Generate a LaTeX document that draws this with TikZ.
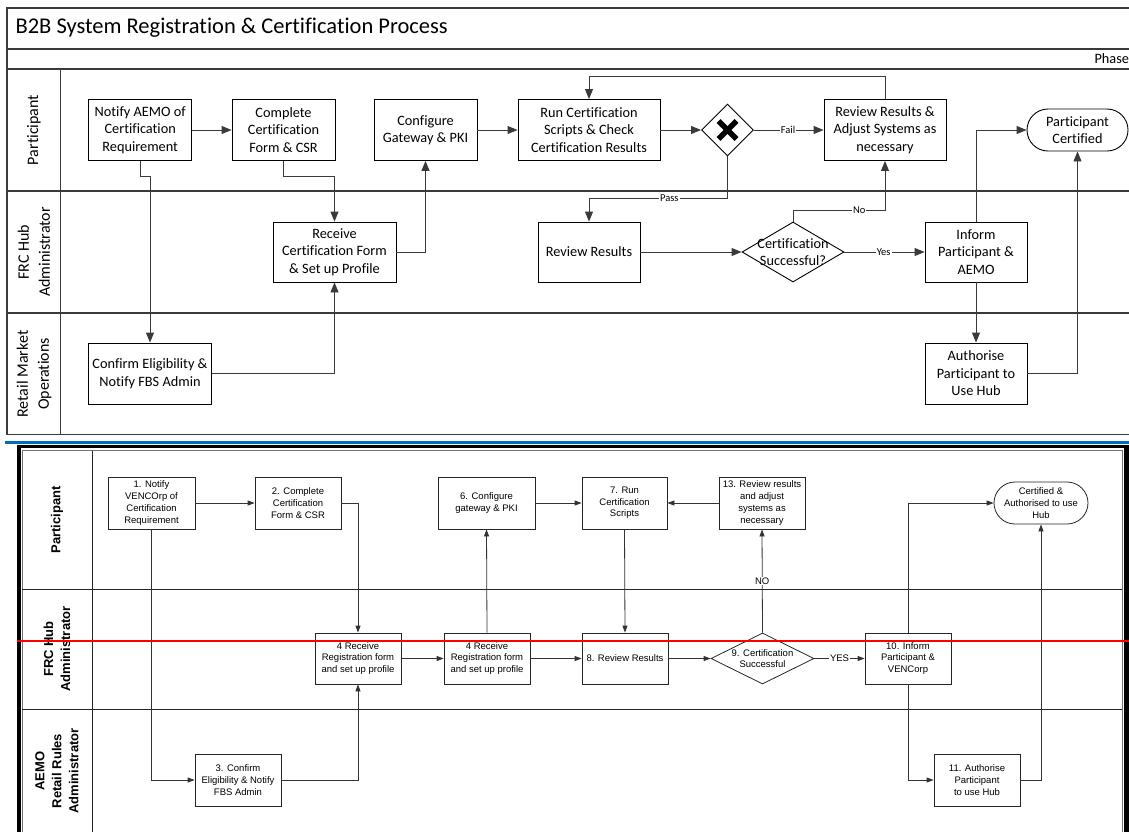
\documentclass[tikz,border=0pt]{standalone}
\usepackage{fontspec}
\setmainfont{Carlito}[Ligatures={NoCommon}]
\newfontfamily\arialf{Liberation Sans}
\usetikzlibrary{arrows.meta,shapes.geometric}
\definecolor{frame}{RGB}{58,58,58}
\definecolor{sepblue}{RGB}{0,108,190}
\begin{document}
\begin{tikzpicture}[x=1pt,y=-1pt,
  topbox/.style={draw=black, line width=0.9pt, fill=white, align=center, inner sep=0pt,
    font=\fontsize{14.3}{17.5}\selectfont},
  topdiam/.style={draw=black, line width=0.9pt, fill=white, diamond, inner sep=0pt},
  topterm/.style={draw=black, line width=0.9pt, fill=white, align=center, inner sep=0pt,
    rounded corners=21pt, font=\fontsize{14.3}{17.5}\selectfont},
  toparr/.style={draw=frame, line width=0.9pt, -{Triangle[length=10pt,width=8pt]}},
  toplab/.style={fill=white, inner sep=1pt, font=\fontsize{10.5}{12}\selectfont},
  lanelab/.style={rotate=90, align=center, font=\fontsize{16}{21}\selectfont},
  lowbox/.style={draw=black!85, line width=0.8pt, fill=white, align=center, inner sep=0pt,
    font=\arialf\fontsize{9.5}{11.7}\selectfont},
  lowarr/.style={draw=black!80, line width=0.8pt, -{Triangle[length=7pt,width=5pt]}},
  lowlab/.style={fill=white, inner sep=1pt, font=\arialf\fontsize{9.5}{11.7}\selectfont},
  lowlane/.style={rotate=90, align=center, font=\arialf\bfseries\fontsize{13}{17}\selectfont},
]
\useasboundingbox (0,0) rectangle (1129,831);
\fill[white] (0,0) rectangle (1129,831);

% ---------- top diagram frame ----------
\draw[frame, line width=1.6pt] (1135,8) -- (7,8) -- (7,434.5) -- (1135,434.5);
\draw[frame, line width=1.4pt] (7,49) -- (1135,49);
\draw[frame, line width=1.4pt] (7,69) -- (1135,69);
\draw[frame, line width=1.4pt] (7,191) -- (1135,191);
\draw[frame, line width=1.4pt] (7,313) -- (1135,313);
\draw[frame, line width=1.2pt] (60.7,69) -- (60.7,434.5);
\node[anchor=west, font=\fontsize{22.5}{26}\selectfont] (title) at (12,28) {B2B System Registration \& Certification Process};
\node[anchor=west, font=\fontsize{14.3}{17.5}\selectfont] (phase) at (1091,59) {Phase};
\node[lanelab] (lpart) at (34,130) {Participant};
\node[lanelab] (lfrc) at (34,252) {FRC Hub\\Administrator};
\node[lanelab] (lrmo) at (34,374) {Retail Market\\Operations};

% ---------- top diagram nodes ----------
\node[topbox, minimum width=103, minimum height=61] (notify) at (140.2,130) {Notify AEMO of\\Certification\\Requirement};
\node[topbox, minimum width=103, minimum height=61] (complete) at (283.5,130) {Complete\\Certification\\Form \& CSR};
\node[topbox, minimum width=103, minimum height=61] (config) at (425.5,130) {Configure\\Gateway \& PKI};
\node[topbox, minimum width=142, minimum height=61] (run) at (589,130) {Run Certification\\Scripts \& Check\\Certification Results};
\node[topdiam, minimum width=52, minimum height=52] (gw) at (727.5,130) {};
\draw[black, line width=5.5pt] ([shift={(-9,-9)}]gw.center) -- ([shift={(9,9)}]gw.center);
\draw[black, line width=5.5pt] ([shift={(-9,9)}]gw.center) -- ([shift={(9,-9)}]gw.center);
\node[topbox, minimum width=122, minimum height=61] (adjust) at (885,130) {Review Results \&\\Adjust Systems as\\necessary};
\node[topterm, minimum width=101, minimum height=42] (cert1) at (1077.5,130) {Participant\\Certified};

\node[topbox, minimum width=123, minimum height=60] (receive) at (334.5,252) {Receive\\Certification Form\\\& Set up Profile};
\node[topbox, minimum width=102, minimum height=60] (revres) at (589,252) {Review Results};
\node[topdiam, minimum width=102, minimum height=60,
  label={[align=center, font=\fontsize{14.3}{17.5}\selectfont]center:Certification\\Successful?}] (certok) at (793,252) {};
\node[topbox, minimum width=102, minimum height=60] (inform) at (976,252) {Inform\\Participant \&\\AEMO};

\node[topbox, minimum width=123, minimum height=61] (confirm) at (150,373.5) {Confirm Eligibility \&\\Notify FBS Admin};
\node[topbox, minimum width=102, minimum height=61] (author) at (976,373.5) {Authorise\\Participant to\\Use Hub};

% ---------- top diagram connectors ----------
\draw[toparr] (notify) -- (complete);
\draw[toparr] (notify.south) -- ++(0,15) -| (confirm.north);
\draw[toparr] (complete.south) -- ++(0,15) -| (receive.north);
\draw[toparr] (confirm.east) -| (receive.south);
\draw[toparr] (receive.east) -| (config.south);
\draw[toparr] (config) -- (run);
\draw[toparr] (run) -- (gw);
\draw[toparr] (gw) -- node[toplab, pos=0.49] {Fail} (adjust);
\draw[toparr] (adjust.north) -- ++(0,-23) -| (run.north);
\draw[toparr] (gw.south) |- ++(0,42) -| node[toplab, pos=0.21] {Pass} (revres.north);
\draw[toparr] (revres) -- (certok);
\draw[toparr] (certok.north) -- ++(0,-11) -| node[toplab, pos=0.36] {No} (adjust.south);
\draw[toparr] (certok) -- node[toplab, pos=0.49] {Yes} (inform);
\draw[toparr] (inform.north) |- (cert1.west);
\draw[toparr] (inform) -- (author);
\draw[toparr] (author.east) -| (cert1.south);

% ---------- separator ----------
\draw[sepblue, line width=3pt] (5,442) -- (1135,442);

% ---------- lower diagram frame ----------
\draw[black, line width=3pt] (17,446.5) -- (1135,446.5);
\draw[black, line width=4pt] (19,446) -- (19,835);
\draw[black, line width=5pt] (1126.5,446) -- (1126.5,835);
\draw[black!55, line width=0.9pt] (22,835) -- (22,450.5) -- (1122,450.5) -- (1122,835);
\draw[black!85, line width=0.8pt] (22,589) -- (1122,589);
\draw[black!85, line width=0.8pt] (22,709) -- (1122,709);
\draw[black!85, line width=0.8pt] (92,450.5) -- (92,835);
\node[lowlane] (mpart) at (57,520) {Participant};
\node[lowlane] (mfrc) at (57,649) {FRC Hub\\Administrator};
\node[lowlane] (maemo) at (57,771) {AEMO\\Retail Rules\\Administrator};

% ---------- lower diagram nodes ----------
\node[lowbox, minimum width=87, minimum height=52] (n1) at (151.5,503) {1. Notify\\VENCOrp of\\Certification\\Requirement};
\node[lowbox, minimum width=86, minimum height=52] (n2) at (298,503) {2. Complete\\Certification\\Form \& CSR};
\node[lowbox, minimum width=97, minimum height=52] (n6) at (486.5,503) {6. Configure\\gateway \& PKI};
\node[lowbox, minimum width=85, minimum height=52] (n7) at (624.5,503) {7. Run\\Certification\\Scripts};
\node[lowbox, minimum width=86, minimum height=52] (n13) at (762,503) {13. Review results\\and adjust\\systems as\\necessary};
\node[lowbox, rounded corners=21pt, minimum width=94, minimum height=42] (cert2) at (1041,503) {Certified \&\\Authorised to use\\Hub};

\node[lowbox, minimum width=86, minimum height=51] (n4a) at (358,658.5) {4 Receive\\Registration form\\and set up profile};
\node[lowbox, minimum width=86, minimum height=51] (n4b) at (487,658.5) {4 Receive\\Registration form\\and set up profile};
\node[lowbox, minimum width=86, minimum height=51] (n8) at (625,658.5) {8. Review Results};
\node[draw=black!85, line width=0.8pt, fill=white, diamond, inner sep=0pt, minimum width=103, minimum height=51,
  label={[align=center, font=\arialf\fontsize{9.5}{11.7}\selectfont]center:9. Certification\\Successful}] (n9) at (762.5,658.5) {};
\node[lowbox, minimum width=86, minimum height=51] (n10) at (908,658.5) {10. Inform\\Participant \&\\VENCorp};

\node[lowbox, minimum width=86, minimum height=52] (n3) at (238,780) {3. Confirm\\Eligibility \& Notify\\FBS Admin};
\node[lowbox, minimum width=86, minimum height=52] (n11) at (977,780) {11. Authorise\\Participant\\to use Hub};

% ---------- lower diagram connectors ----------
\draw[lowarr] (n1) -- (n2);
\draw[lowarr] (n1.south) |- (n3.west);
\draw[lowarr] (n2.east) -| (n4a.north);
\draw[lowarr] (n3.east) -| (n4a.south);
\draw[lowarr] (n4a) -- (n4b);
\draw[lowarr] (n4b.north) -- (n6.south);
\draw[lowarr] (n6) -- (n7);
\draw[lowarr] (n13) -- (n7);
\draw[lowarr] (n7.south) -- (n8.north);
\draw[lowarr] (n4b) -- (n8);
\draw[lowarr] (n8) -- (n9);
\draw[lowarr] (n9.north) -- node[lowlab, pos=0.5] {NO} (n13.south);
\draw[lowarr] (n9) -- node[lowlab, pos=0.5] {YES} (n10);
\draw[lowarr] (n10.north) |- (cert2.west);
\draw[lowarr] (n10.south) |- (n11.west);
\draw[lowarr] (n11.east) -| (cert2.south);

% ---------- red line ----------
\draw[red, line width=2.2pt] (17,641) -- (1135,641);
\end{tikzpicture}
\end{document}
